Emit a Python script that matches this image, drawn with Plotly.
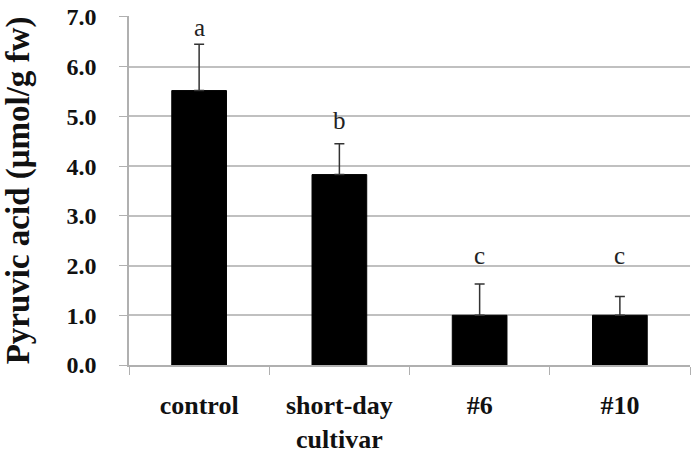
import plotly.graph_objects as go

categories = ["control", "short-day<br>cultivar", "#6", "#10"]
means = [5.52, 3.83, 1.00, 1.00]
errors = [0.93, 0.62, 0.63, 0.38]
letters = ["a", "b", "c", "c"]
letter_y = [6.78, 4.92, 2.20, 2.20]
y_ticks = [0, 1, 2, 3, 4, 5, 6, 7]

fig = go.Figure()
fig.add_trace(go.Bar(
    x=categories, y=means,
    marker=dict(color="black", line=dict(color="black", width=1)),
    error_y=dict(type="data", array=errors, arrayminus=[0]*len(errors),
                 symmetric=False, color="#333333", thickness=1.5, width=5),
    width=0.39,
))
for c, l, ly in zip(categories, letters, letter_y):
    fig.add_annotation(x=c, y=ly, text=l, showarrow=False,
                       font=dict(family="Liberation Serif", size=25, color="#222"))

fig.update_layout(
    width=700, height=453,
    margin=dict(l=129, r=10, t=16, b=88),
    plot_bgcolor="white", paper_bgcolor="white",
    showlegend=False,
    font=dict(family="Liberation Serif", color="#111"),
)
fig.update_xaxes(
    automargin=False,
    tickson="boundaries", ticks="outside", ticklen=8, tickcolor="#b0b0b0",
    showline=True, linecolor="#b0b0b0", linewidth=1.5,
    tickfont=dict(family="Liberation Serif", size=26, color="#111", weight="bold"),
    ticklabelstandoff=16,
)
fig.update_yaxes(
    automargin=False,
    range=[0, 7.02], tickvals=y_ticks, ticktext=[f"{v:.1f}" for v in y_ticks],
    ticks="outside", ticklen=8, tickcolor="#b0b0b0",
    showline=True, linecolor="#b0b0b0", linewidth=1.5,
    showgrid=True, gridcolor="#c0c0c0", gridwidth=1.5,
    zeroline=False, ticklabeloverflow="allow",
    tickfont=dict(family="Liberation Serif", size=24, color="#111", weight="bold"),
    ticklabelstandoff=18,
    title=dict(text="Pyruvic acid (μmol/g fw)", standoff=30,
               font=dict(family="Liberation Serif", size=33, color="#111", weight="bold")),
)
fig.write_html("out.html", config={"displayModeBar": False},
               post_script="document.body.style.margin='0';")
